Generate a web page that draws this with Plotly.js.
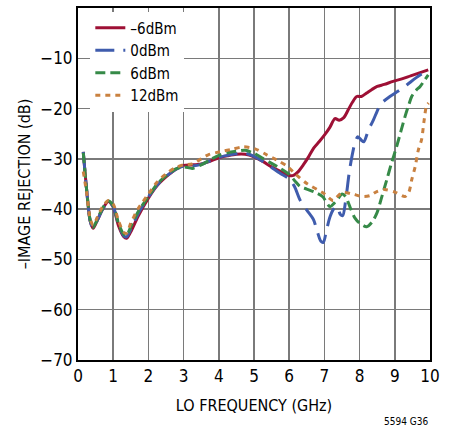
<!DOCTYPE html>
<html>
<head>
<meta charset="utf-8">
<script src="https://cdn.plot.ly/plotly-3.0.1.min.js"></script>
<style>html,body{margin:0;padding:0;background:#fff;}#chart{width:454px;height:429px;}</style>
</head>
<body>
<div id="chart"></div>
<script>
var seriesNames = ['\u20136dBm', '0dBm', '6dBm', '12dBm'];

var xLow = [0.15, 0.25, 0.35, 0.43, 0.55, 0.7, 0.86, 1.0, 1.15, 1.3, 1.38, 1.5, 1.7, 2.0, 2.25, 2.5, 2.75, 3.0];

var xRed = xLow.concat([3.25, 3.5, 3.75, 4.0, 4.25, 4.5, 4.75, 5.0, 5.25, 5.5, 5.75, 6.0, 6.12, 6.25, 6.4, 6.55, 6.7, 6.85, 7.0, 7.15, 7.3, 7.42, 7.55, 7.68, 7.8, 7.92, 8.05, 8.2, 8.35, 8.5, 8.7, 8.95, 9.2, 9.45, 9.7, 9.95]);
var yRed = [-28.6, -36.5, -42.5, -43.8, -42.2, -40.0, -38.5, -39.6, -43.3, -45.5, -45.8, -44.5, -41.5, -37.8, -35.3, -33.6, -32.2, -31.3,
  -31.2, -31.0, -30.5, -29.8, -29.4, -29.1, -29.1, -29.6, -30.5, -31.6, -32.5, -33.3, -33.3, -32.6, -31.2, -29.6, -27.8, -26.6, -25.3, -23.8, -22.0, -22.3, -21.8, -20.2, -18.7, -17.6, -17.6, -16.9, -16.2, -15.6, -15.2, -14.6, -14.1, -13.5, -12.9, -12.3];

var xBlue = xLow.concat([3.25, 3.5, 3.75, 4.0, 4.25, 4.5, 4.75, 5.0, 5.25, 5.5, 5.75, 6.0, 6.15, 6.31, 6.5, 6.69, 6.8, 6.9, 6.97, 7.05, 7.16, 7.28, 7.36, 7.45, 7.52, 7.6, 7.7, 7.78, 7.88, 7.95, 8.05, 8.12, 8.25, 8.39, 8.5, 8.6, 8.86, 9.1, 9.34, 9.6, 9.95]);
var yBlue = [-28.6, -36.5, -42.5, -43.8, -42.2, -40.0, -38.5, -39.5, -43.0, -45.3, -45.5, -44.0, -41.0, -37.6, -35.2, -33.5, -32.2, -31.4,
  -31.4, -31.1, -30.4, -29.7, -29.3, -29.0, -28.9, -29.5, -30.5, -31.7, -32.9, -34.0, -35.5, -38.2, -40.2, -42.1, -44.5, -46.4, -46.6, -44.5, -41.5, -39.8, -39.5, -41.0, -41.3, -38.5, -33.0, -29.6, -26.5, -25.6, -26.3, -26.6, -24.3, -22.3, -20.5, -19.1, -17.6, -16.5, -15.3, -13.9, -12.3];

var xGreen = xLow.concat([3.25, 3.5, 3.75, 4.0, 4.25, 4.5, 4.75, 5.0, 5.25, 5.5, 5.75, 6.0, 6.15, 6.31, 6.5, 6.78, 6.95, 7.16, 7.28, 7.4, 7.5, 7.6, 7.75, 7.87, 8.0, 8.2, 8.35, 8.49, 8.62, 8.77, 8.9, 9.05, 9.17, 9.29, 9.4, 9.48, 9.6, 9.72, 9.85, 9.95]);
var yGreen = [-28.8, -36.5, -42.3, -43.6, -42.0, -39.8, -38.4, -39.3, -42.8, -45.0, -45.2, -43.5, -40.6, -37.5, -35.0, -33.4, -32.1, -31.6,
  -31.9, -31.2, -30.2, -29.3, -28.8, -28.5, -28.3, -28.9, -29.9, -30.9, -31.9, -33.1, -34.3, -35.5, -36.0, -36.8, -37.5, -39.5, -38.8, -37.8, -37.0, -37.5, -40.0, -41.8, -42.8, -43.5, -42.6, -40.8, -37.8, -34.2, -31.0, -27.6, -24.6, -21.6, -19.2, -17.6, -16.4, -15.6, -14.3, -13.3];

var xOrange = xLow.concat([3.25, 3.5, 3.7, 4.03, 4.37, 4.7, 5.03, 5.36, 5.64, 5.93, 6.16, 6.5, 6.97, 7.25, 7.35, 7.52, 7.75, 8.1, 8.3, 8.49, 8.7, 9.0, 9.29, 9.4, 9.48, 9.58, 9.67, 9.76, 9.83, 9.9, 9.96]);
var yOrange = [-32.5, -37.0, -42.0, -43.2, -41.6, -39.5, -38.3, -39.0, -42.3, -44.6, -44.8, -42.8, -40.0, -37.0, -34.6, -33.0, -31.8, -31.2,
  -31.0, -30.0, -29.2, -28.6, -28.1, -27.6, -28.0, -29.2, -30.2, -31.4, -32.9, -34.9, -36.8, -38.3, -37.6, -36.7, -36.9, -37.5, -37.3, -36.5, -36.1, -36.6, -37.5, -36.6, -34.2, -31.5, -28.2, -26.2, -22.5, -19.5, -18.9];

var xTickVals = [0, 1, 2, 3, 4, 5, 6, 7, 8, 9, 10];
var yTickVals = [0, -10, -20, -30, -40, -50, -60, -70];

var FONT = '"Liberation Sans Narrow", "DejaVu Sans Condensed", "Arial Narrow", sans-serif';

function tr(x, y, name, color, dash) {
  return {x: x, y: y, name: name, type: 'scatter', mode: 'lines',
    line: {color: color, width: 3, dash: dash, shape: 'spline', smoothing: 0.8}};
}

var data = [
  tr(xRed, yRed, seriesNames[0], '#9e1035', 'solid'),
  tr(xBlue, yBlue, seriesNames[1], '#3f5cad', '19px,9px'),
  tr(xGreen, yGreen, seriesNames[2], '#368a48', '10px,5px'),
  tr(xOrange, yOrange, seriesNames[3], '#c98140', '5px,5px')
];

var layout = {
  width: 454, height: 429,
  margin: {l: 78, r: 24, t: 8, b: 69, pad: 0},
  paper_bgcolor: '#fff', plot_bgcolor: '#fff',
  font: {family: FONT, size: 16, color: '#000'},
  showlegend: true,
  legend: {x: 0.035, y: 0.99, xanchor: 'left', yanchor: 'top', bgcolor: '#fff',
    font: {family: FONT, size: 15, color: '#000'}, tracegroupgap: 0},
  xaxis: {range: [0, 10], tickvals: xTickVals, ticks: '', showgrid: true, gridcolor: '#7a7a7a', gridwidth: 1.5,
    zeroline: false, showline: true, mirror: true, linecolor: '#000', linewidth: 2,
    tickfont: {family: FONT, size: 17, color: '#000'},
    title: {text: 'LO FREQUENCY (GHz)', font: {family: FONT, size: 16, color: '#000'}, standoff: 14}},
  yaxis: {range: [-70, 0], tickvals: yTickVals, ticks: '', showgrid: true, gridcolor: '#7a7a7a', gridwidth: 1.5,
    zeroline: false, showline: true, mirror: true, linecolor: '#000', linewidth: 2,
    tickfont: {family: FONT, size: 17, color: '#000'},
    title: {text: '\u2013IMAGE REJECTION (dB)', font: {family: FONT, size: 16, color: '#000'}, standoff: 6}},
  annotations: [{text: '5594 G36', xref: 'paper', yref: 'paper', x: 1, y: -0.176, xanchor: 'right', yanchor: 'middle',
    showarrow: false, font: {family: FONT, size: 10, color: '#000'}}]
};

Plotly.newPlot('chart', data, layout, {displayModeBar: false, staticPlot: true});
</script>
</body>
</html>
